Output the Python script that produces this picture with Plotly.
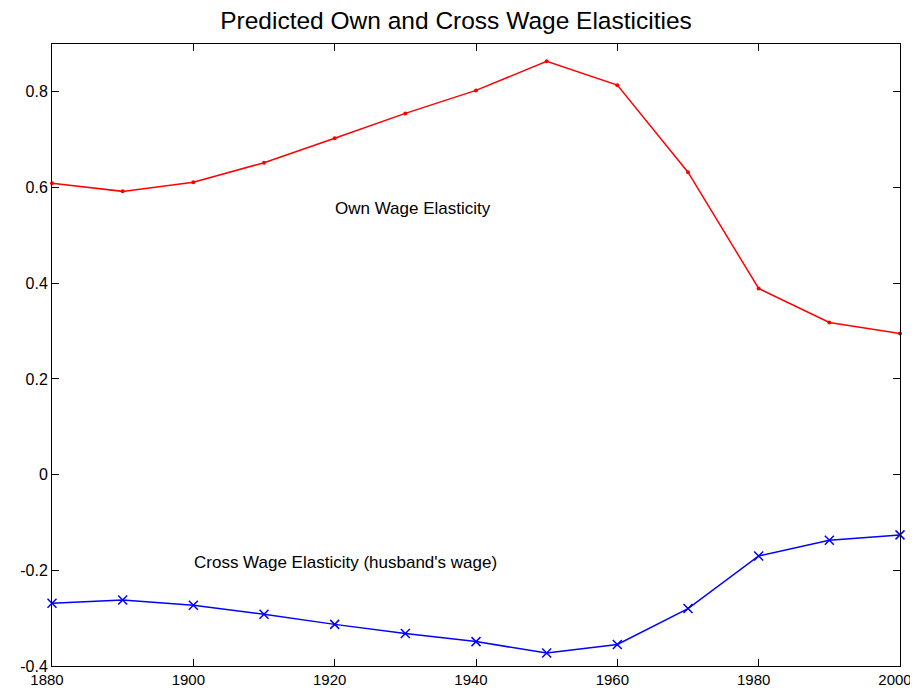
import plotly.graph_objects as go

years = [1880, 1890, 1900, 1910, 1920, 1930, 1940, 1950, 1960, 1970, 1980, 1990, 2000]
own_wage = [0.609, 0.592, 0.611, 0.652, 0.703, 0.755, 0.803, 0.864, 0.814, 0.632, 0.389, 0.318, 0.295]
cross_wage = [-0.269, -0.262, -0.273, -0.292, -0.313, -0.332, -0.349, -0.373, -0.355, -0.280, -0.170, -0.137, -0.126]
x_ticks = [1880, 1900, 1920, 1940, 1960, 1980, 2000]
y_ticks = [-0.4, -0.2, 0, 0.2, 0.4, 0.6, 0.8]
y_tick_labels = ["-0.4", "-0.2", "0", "0.2", "0.4", "0.6", "0.8"]

FONT = "Liberation Sans, Arial"

fig = go.Figure()
fig.add_trace(go.Scatter(x=years, y=own_wage, mode="lines+markers",
                         line=dict(color="#ff0000", width=1.5),
                         marker=dict(color="#ff0000", size=4, symbol="circle"),
                         showlegend=False, cliponaxis=False))
fig.add_trace(go.Scatter(x=years, y=cross_wage, mode="lines+markers",
                         line=dict(color="#0000ff", width=1.5),
                         marker=dict(color="#0000ff", size=9, symbol="x-thin",
                                     line=dict(color="#0000ff", width=1.5)),
                         showlegend=False, cliponaxis=False))

fig.add_annotation(x=1931.1, y=0.556, text="Own Wage Elasticity", showarrow=False,
                   font=dict(family=FONT, size=17, color="black"))
fig.add_annotation(x=1921.5, y=-0.183, text="Cross Wage Elasticity (husband's wage)", showarrow=False,
                   font=dict(family=FONT, size=17, color="black"))

axis_common = dict(showline=True, linecolor="black", linewidth=1, mirror="ticks",
                   ticks="inside", ticklen=7, tickcolor="black", showgrid=False,
                   zeroline=False, automargin=False)

fig.update_xaxes(range=[1880, 2000], tickvals=x_ticks, ticktext=[str(t) for t in x_ticks],
                 ticklabelshift=-5, ticklabeloverflow="allow",
                 tickfont=dict(family=FONT, size=15, color="black"), **axis_common)
fig.update_yaxes(range=[-0.4, 0.9], tickvals=y_ticks, ticktext=y_tick_labels,
                 tickfont=dict(family=FONT, size=16, color="black"), **axis_common)

fig.update_layout(
    width=910, height=682,
    margin=dict(l=44, r=18, t=36, b=24),
    plot_bgcolor="white", paper_bgcolor="white",
    title=dict(text="Predicted Own and Cross Wage Elasticities", x=448 / 910, xanchor="center",
               y=0.982, yanchor="middle",
               font=dict(family=FONT, size=24.5, color="black")),
)

fig.write_html("out.html")
